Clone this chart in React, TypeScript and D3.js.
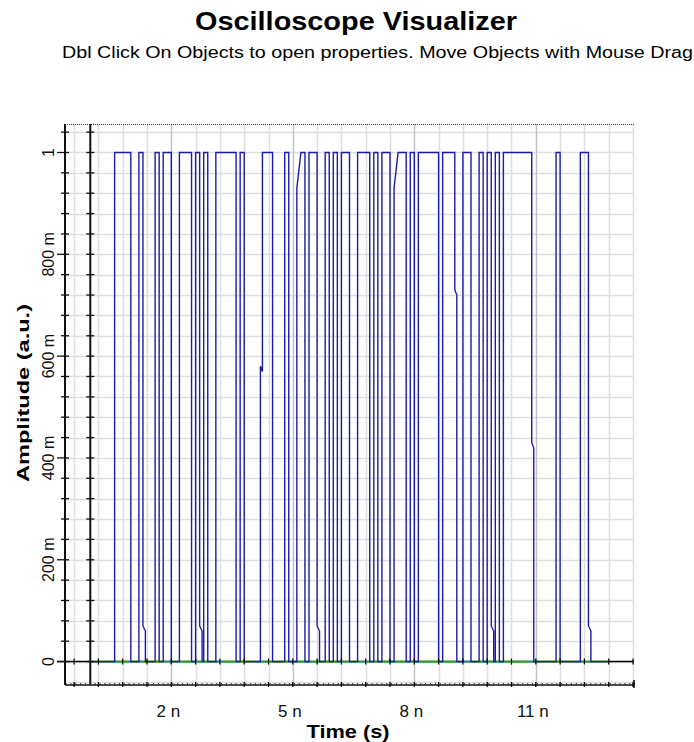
import React, { useEffect, useRef } from 'react';
import * as d3 from 'd3';

// bit stream, 0.1 ns per bit, 128 bits
const bitPeriod = 0.1;
const bits = [
  0,0,0,0,0,0,1,1,1,1,0,0,1,0,0,0,
  1,0,1,1,0,0,1,1,1,0,1,0,1,0,0,1,
  1,1,1,1,0,1,0,0,0,0,1,1,1,0,0,0,
  1,0,0,1,1,0,1,1,0,0,1,0,1,0,1,1,
  0,0,1,1,1,0,1,0,1,1,0,1,1,1,0,1,
  0,1,1,1,1,1,0,1,1,1,0,0,1,1,0,0,
  1,0,1,0,1,0,1,1,1,1,1,1,1,0,0,0,
  0,0,0,1,0,0,0,0,0,1,1,0,0,0,0,0,
];
// edges that were caught mid-way by a sample: [bit, level at edge, level one sample later, sample step ns]
const slowEdges = [
  [13, 0.07, 0.06, 0.06],
  [27, 0.07, 0.06, 0.06],
  [42, 0.58, 0.57, 0.05],
  [51, 0.93, 1.0, 0.1],
  [56, 0.07, 0.06, 0.06],
  [75, 0.93, 1.0, 0.1],
  [90, 0.73, 0.72, 0.05],
  [99, 0.07, 0.06, 0.06],
  [109, 0.43, 0.42, 0.05],
  [123, 0.07, 0.06, 0.06],
];

const yTickValues = [0, 0.2, 0.4, 0.6, 0.8, 1];
const yTickLabels = ['0', '200 m', '400 m', '600 m', '800 m', '1'];
const xTickValues = [2, 5, 8, 11];
const xTickLabels = ['2 n', '5 n', '8 n', '11 n'];

const font = '"Liberation Sans", Arial, sans-serif';

function App() {
  const chartRef = useRef<SVGSVGElement>(null);

  useEffect(() => {
    document.body.style.margin = '0';
    const svg = d3.select(chartRef.current);
    svg.selectAll('*').remove();

    const x = d3.scaleLinear().domain([-0.6, 13.4]).range([66, 633]);
    const y = d3.scaleLinear().domain([-0.046, 1.054]).range([685, 125]);
    const left = 65, right = 634, top = 124, bottom = 685;

    // ---- grid ----
    const hGrid = d3.range(-1, 27).map(k => k * 0.04);
    svg.append('g').selectAll('line').data(hGrid).enter().append('line')
      .attr('x1', left).attr('x2', right)
      .attr('y1', d => Math.round(y(d)) + 0.5).attr('y2', d => Math.round(y(d)) + 0.5)
      .attr('stroke', '#dedede').attr('stroke-width', 1.5);

    const vGrid = d3.range(0, 24).map(k => -0.4 + k * 0.6);
    svg.append('g').selectAll('line').data(vGrid).enter().append('line')
      .attr('x1', d => Math.round(x(d)) + 0.5).attr('x2', d => Math.round(x(d)) + 0.5)
      .attr('y1', top).attr('y2', bottom)
      .attr('stroke', d => xTickValues.some(v => Math.abs(v - d) < 1e-6) ? '#c2c2c2' : '#dedede')
      .attr('stroke-width', 1.5);

    // top dotted border
    svg.append('line')
      .attr('x1', left).attr('x2', right).attr('y1', top + 0.5).attr('y2', top + 0.5)
      .attr('stroke', '#333').attr('stroke-dasharray', '1,1');

    // ---- traces ----
    const pts: [number, number][] = [[0, bits[0]]];
    for (let i = 1; i < bits.length; i++) {
      if (bits[i] === bits[i - 1]) continue;
      const tb = i * bitPeriod;
      const slow = slowEdges.find(e => e[0] === i);
      pts.push([tb, bits[i - 1]]);
      if (slow) {
        pts.push([tb, slow[1]]);
        pts.push([tb + slow[3], slow[2]]);
        pts.push([tb + slow[3], bits[i]]);
      } else {
        pts.push([tb, bits[i]]);
      }
    }
    pts.push([bits.length * bitPeriod, bits[bits.length - 1]]);

    const line = d3.line<[number, number]>().x(d => x(d[0])).y(d => y(d[1]));

    // zero axis line
    svg.append('line')
      .attr('x1', 57).attr('x2', right).attr('y1', y(0)).attr('y2', y(0))
      .attr('stroke', '#000').attr('stroke-width', 1.5);

    svg.append('path')
      .datum([[0, 0], [bits.length * bitPeriod, 0]] as [number, number][])
      .attr('d', line).attr('fill', 'none')
      .attr('stroke', '#18a818').attr('stroke-width', 1.6);

    svg.append('path')
      .datum(pts)
      .attr('d', line).attr('fill', 'none')
      .attr('stroke', '#1c1caa').attr('stroke-width', 1.4);

    // ticks on zero line
    svg.append('g').selectAll('line').data(vGrid).enter().append('line')
      .attr('x1', d => x(d)).attr('x2', d => x(d))
      .attr('y1', y(0) - 3).attr('y2', y(0) + 3)
      .attr('stroke', '#000').attr('stroke-width', 1.2);

    // ---- y axes (outer and at t = 0) ----
    const yMinor = d3.range(0, 27).map(k => k * 0.04);
    [left, x(0)].forEach((ax, idx) => {
      svg.append('line')
        .attr('x1', ax).attr('x2', ax).attr('y1', top).attr('y2', bottom)
        .attr('stroke', '#111').attr('stroke-width', 2);
      svg.append('g').selectAll('line').data(yMinor).enter().append('line')
        .attr('x1', d => idx === 0 && yTickValues.some(v => Math.abs(v - d) < 1e-6) ? ax - 8 : ax - 4)
        .attr('x2', ax + 4)
        .attr('y1', d => y(d)).attr('y2', d => y(d))
        .attr('stroke', '#111').attr('stroke-width', 1.3);
    });

    // ---- bottom axis ----
    svg.append('line')
      .attr('x1', left).attr('x2', right).attr('y1', bottom).attr('y2', bottom)
      .attr('stroke', '#111').attr('stroke-width', 1.5);
    svg.append('g').selectAll('line').data(d3.range(0, 118).map(k => -0.6 + k * 0.12)).enter().append('line')
      .attr('x1', d => x(d)).attr('x2', d => x(d))
      .attr('y1', bottom - 2).attr('y2', bottom)
      .attr('stroke', '#333').attr('stroke-width', 1);
    svg.append('g').selectAll('line').data(vGrid).enter().append('line')
      .attr('x1', d => x(d)).attr('x2', d => x(d))
      .attr('y1', bottom - 3).attr('y2', bottom + 2)
      .attr('stroke', '#000').attr('stroke-width', 1.3);
    svg.append('line')
      .attr('x1', right).attr('x2', right).attr('y1', bottom - 5).attr('y2', bottom + 3)
      .attr('stroke', '#000').attr('stroke-width', 1.5);

    // ---- labels ----
    svg.append('g').selectAll('text').data(yTickValues).enter().append('text')
      .attr('transform', d => `translate(54,${y(d)}) rotate(-90)`)
      .attr('text-anchor', 'middle')
      .style('font-family', font).style('font-size', '16px').attr('fill', '#111')
      .text((d, i) => yTickLabels[i]);

    svg.append('g').selectAll('text').data(xTickValues).enter().append('text')
      .attr('x', d => x(d) - 3).attr('y', 717)
      .attr('text-anchor', 'middle')
      .style('font-family', font).style('font-size', '17px').attr('fill', '#111')
      .text((d, i) => xTickLabels[i]);

    svg.append('text')
      .attr('transform', 'translate(29,393) rotate(-90)')
      .attr('text-anchor', 'middle')
      .attr('textLength', 178).attr('lengthAdjust', 'spacingAndGlyphs')
      .style('font-family', font).style('font-size', '17px').style('font-weight', 'bold')
      .text('Amplitude (a.u.)');

    svg.append('text')
      .attr('x', 348).attr('y', 738)
      .attr('text-anchor', 'middle')
      .attr('textLength', 83).attr('lengthAdjust', 'spacingAndGlyphs')
      .style('font-family', font).style('font-size', '19px').style('font-weight', 'bold')
      .text('Time (s)');

    svg.append('text')
      .attr('x', 356).attr('y', 30)
      .attr('text-anchor', 'middle')
      .attr('textLength', 322).attr('lengthAdjust', 'spacingAndGlyphs')
      .style('font-family', font).style('font-size', '25px').style('font-weight', 'bold')
      .text('Oscilloscope Visualizer');

    svg.append('text')
      .attr('x', 62).attr('y', 58)
      .attr('textLength', 631).attr('lengthAdjust', 'spacingAndGlyphs')
      .style('font-family', font).style('font-size', '16px')
      .text('Dbl Click On Objects to open properties.  Move Objects with Mouse Drag');
  }, []);

  return (
    <svg ref={chartRef} width={694} height={742} style={{ display: 'block', background: '#fff' }} />
  );
}

export default App;
